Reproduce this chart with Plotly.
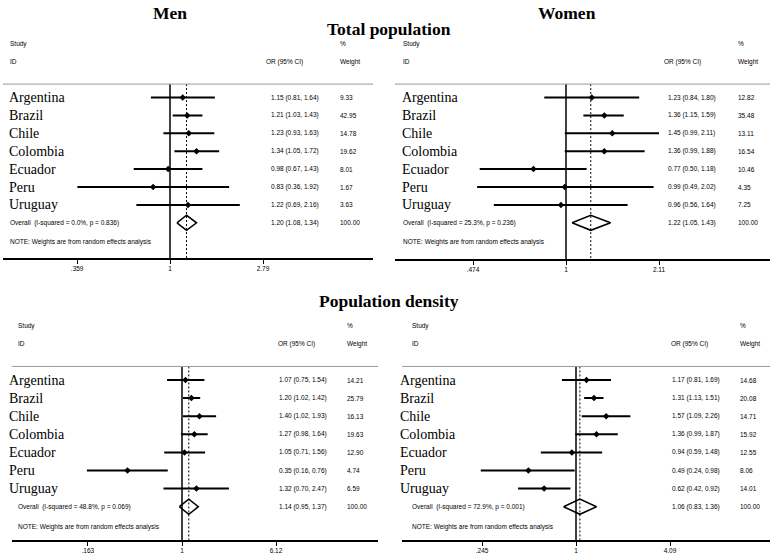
import math
import plotly.graph_objects as go

W, H = 778, 555

# ---------------- data ----------------
countries = ["Argentina", "Brazil", "Chile", "Colombia", "Ecuador", "Peru", "Uruguay"]

men_total_or = [1.15, 1.21, 1.23, 1.34, 0.98, 0.83, 1.22]
men_total_lo = [0.81, 1.03, 0.93, 1.05, 0.67, 0.36, 0.69]
men_total_hi = [1.64, 1.43, 1.63, 1.72, 1.43, 1.92, 2.16]
men_total_w = [9.33, 42.95, 14.78, 19.62, 8.01, 1.67, 3.63]
men_total_overall = [1.20, 1.08, 1.34]
men_total_het = "I-squared = 0.0%, p = 0.836"
men_total_ticks = [0.359, 1, 2.79]
men_total_ticklabels = [".359", "1", "2.79"]

women_total_or = [1.23, 1.36, 1.45, 1.36, 0.77, 0.99, 0.96]
women_total_lo = [0.84, 1.15, 0.99, 0.99, 0.50, 0.49, 0.56]
women_total_hi = [1.80, 1.59, 2.11, 1.88, 1.18, 2.02, 1.64]
women_total_w = [12.82, 35.48, 13.11, 16.54, 10.46, 4.35, 7.25]
women_total_overall = [1.22, 1.05, 1.43]
women_total_het = "I-squared = 25.3%, p = 0.236"
women_total_ticks = [0.474, 1, 2.11]
women_total_ticklabels = [".474", "1", "2.11"]

men_dens_or = [1.07, 1.20, 1.40, 1.27, 1.05, 0.35, 1.32]
men_dens_lo = [0.75, 1.02, 1.02, 0.98, 0.71, 0.16, 0.70]
men_dens_hi = [1.54, 1.42, 1.93, 1.64, 1.56, 0.76, 2.47]
men_dens_w = [14.21, 25.79, 16.13, 19.63, 12.90, 4.74, 6.59]
men_dens_overall = [1.14, 0.95, 1.37]
men_dens_het = "I-squared = 48.8%, p = 0.069"
men_dens_ticks = [0.163, 1, 6.12]
men_dens_ticklabels = [".163", "1", "6.12"]

women_dens_or = [1.17, 1.31, 1.57, 1.36, 0.94, 0.49, 0.62]
women_dens_lo = [0.81, 1.13, 1.09, 0.99, 0.59, 0.24, 0.42]
women_dens_hi = [1.69, 1.51, 2.26, 1.87, 1.48, 0.98, 0.92]
women_dens_w = [14.68, 20.08, 14.71, 15.92, 12.55, 8.06, 14.01]
women_dens_overall = [1.06, 0.83, 1.36]
women_dens_het = "I-squared = 72.9%, p = 0.001"
women_dens_ticks = [0.245, 1, 4.09]
women_dens_ticklabels = [".245", "1", "4.09"]

data_sets = [
    (men_total_or, men_total_lo, men_total_hi, men_total_w, men_total_overall,
     men_total_het, men_total_ticks, men_total_ticklabels),
    (women_total_or, women_total_lo, women_total_hi, women_total_w, women_total_overall,
     women_total_het, women_total_ticks, women_total_ticklabels),
    (men_dens_or, men_dens_lo, men_dens_hi, men_dens_w, men_dens_overall,
     men_dens_het, men_dens_ticks, men_dens_ticklabels),
    (women_dens_or, women_dens_lo, women_dens_hi, women_dens_w, women_dens_overall,
     women_dens_het, women_dens_ticks, women_dens_ticklabels),
]

# ---------------- layout (pixel geometry of each panel) ----------------
panels = [
    dict(l=3, r=373, x1=170, gap=93, y0=97.5, s=17.9, axis_px=258,
         xn=7, xs=8, xor_h=264, xor=269, xw=338),
    dict(l=395, r=770, x1=566, gap=93, y0=97.5, s=17.9, axis_px=259,
         xn=400, xs=401, xor_h=662, xor=666, xw=736),
    dict(l=12, r=378, x1=182, gap=94, y0=380, s=18.1, axis_px=540,
         xn=7, xs=16, xor_h=276, xor=277, xw=345),
    dict(l=402, r=770, x1=576, gap=94, y0=380, s=18.1, axis_px=540,
         xn=398, xs=410, xor_h=669, xor=670, xw=738),
]

SERIF = "Liberation Serif, Times New Roman, serif"
SANS = "Liberation Sans, Arial, sans-serif"
SMALL = 6.5

fig = go.Figure()
annotations = []
shapes = []
layout_axes = {}

ROW_TOP = -3.6
ROW_LINE = 0.25

for i, (p, ds) in enumerate(zip(panels, data_sets)):
    n = i + 1
    xa = "x" if n == 1 else f"x{n}"
    ya = "y" if n == 1 else f"y{n}"
    xkey = "xaxis" if n == 1 else f"xaxis{n}"
    ykey = "yaxis" if n == 1 else f"yaxis{n}"
    est, lo, hi, w, ov, het, ticks, ticklabels = ds

    k = p["gap"] / math.log10(ticks[2])  # px per log10 unit
    xr = [(p["l"] - p["x1"]) / k, (p["r"] - p["x1"]) / k]

    row_axis = (p["axis_px"] - p["y0"]) / p["s"] + 1
    pbot = p["axis_px"]
    ptop = p["y0"] + (ROW_TOP - 1) * p["s"]

    layout_axes[xkey] = dict(
        type="log", range=xr, domain=[p["l"] / W, p["r"] / W], anchor=ya,
        showgrid=False, zeroline=False, showline=True, linecolor="black", linewidth=1.5,
        ticks="outside", ticklen=4, tickwidth=1, tickcolor="black",
        tickvals=ticks, ticktext=ticklabels,
        tickfont=dict(family=SANS, size=SMALL, color="black"),
        fixedrange=True,
    )
    layout_axes[ykey] = dict(
        range=[row_axis, ROW_TOP], domain=[1 - pbot / H, 1 - ptop / H], anchor=xa,
        visible=False, fixedrange=True,
    )

    rows = list(range(1, len(countries) + 1))
    ov_row = len(countries) + 1

    # header line
    shapes.append(dict(type="line", xref=f"{xa} domain", yref=ya, x0=0, x1=1,
                       y0=ROW_LINE, y1=ROW_LINE, line=dict(color="#9a9a9a", width=1)))

    # no-effect line
    fig.add_trace(go.Scatter(x=[1, 1], y=[ROW_LINE, row_axis], xaxis=xa, yaxis=ya,
                             mode="lines", line=dict(color="black", width=1.5),
                             hoverinfo="skip"))
    # overall dashed line
    fig.add_trace(go.Scatter(x=[ov[0], ov[0]], y=[ROW_LINE, row_axis], xaxis=xa, yaxis=ya,
                             mode="lines", line=dict(color="black", width=1, dash="2px,2px"),
                             hoverinfo="skip"))
    # CI lines
    cx, cy = [], []
    for r, a, b in zip(rows, lo, hi):
        cx += [a, b, None]
        cy += [r, r, None]
    fig.add_trace(go.Scatter(x=cx, y=cy, xaxis=xa, yaxis=ya, mode="lines",
                             line=dict(color="black", width=2), hoverinfo="skip"))
    # point estimates
    fig.add_trace(go.Scatter(x=est, y=rows, xaxis=xa, yaxis=ya, mode="markers",
                             marker=dict(symbol="diamond", size=5, color="black"),
                             hoverinfo="skip"))
    # overall diamond
    hd = 0.42
    fig.add_trace(go.Scatter(
        x=[ov[1], ov[0], ov[2], ov[0], ov[1]],
        y=[ov_row, ov_row - hd, ov_row, ov_row + hd, ov_row],
        xaxis=xa, yaxis=ya, mode="lines", line=dict(color="black", width=1.5),
        hoverinfo="skip"))

    def ann(text, xpx, row, font, anchor="left", ya=ya):
        annotations.append(dict(text=text, x=xpx / W, xref="paper", y=row, yref=ya,
                                xanchor=anchor, yanchor="middle", showarrow=False,
                                font=font))

    fs = dict(family=SANS, size=SMALL, color="black")
    fn = dict(family=SERIF, size=14, color="black")

    ann("Study", p["xs"], -2, fs)
    ann("ID", p["xs"], -1, fs)
    ann("OR (95% CI)", p["xor_h"], -1, fs)
    ann("%", p["xw"], -2, fs)
    ann("Weight", p["xw"], -1, fs)

    for r, c, e, a, b, ww in zip(rows, countries, est, lo, hi, w):
        ann(c, p["xn"], r, fn)
        ann(f"{e:.2f} ({a:.2f}, {b:.2f})", p["xor"], r, fs)
        ann(f"{ww:.2f}", p["xw"], r, fs)

    ann(f"Overall\u00a0 ({het})", p["xs"], ov_row, fs)
    ann(f"{ov[0]:.2f} ({ov[1]:.2f}, {ov[2]:.2f})", p["xor"], ov_row, fs)
    ann("100.00", p["xw"], ov_row, fs)
    ann("NOTE: Weights are from random effects analysis", p["xs"], ov_row + 1.1, fs)

# titles
ft = dict(family=SERIF, size=17.5, color="black")
for text, xpx, ypx in [("Men", 170, 13), ("Women", 567, 13),
                       ("Total population", 389, 29), ("Population density", 389, 301)]:
    annotations.append(dict(text=f"<b>{text}</b>", x=xpx / W, y=1 - ypx / H,
                            xref="paper", yref="paper", xanchor="center", yanchor="middle",
                            showarrow=False, font=ft))

fig.update_layout(
    width=W, height=H, autosize=False,
    margin=dict(l=0, r=0, t=0, b=0),
    paper_bgcolor="white", plot_bgcolor="white",
    showlegend=False,
    annotations=annotations, shapes=shapes,
    **layout_axes,
)

fig.write_html("out.html",
               config={"displayModeBar": False, "staticPlot": True},
               post_script="document.body.style.margin='0';document.body.style.overflow='hidden';")
